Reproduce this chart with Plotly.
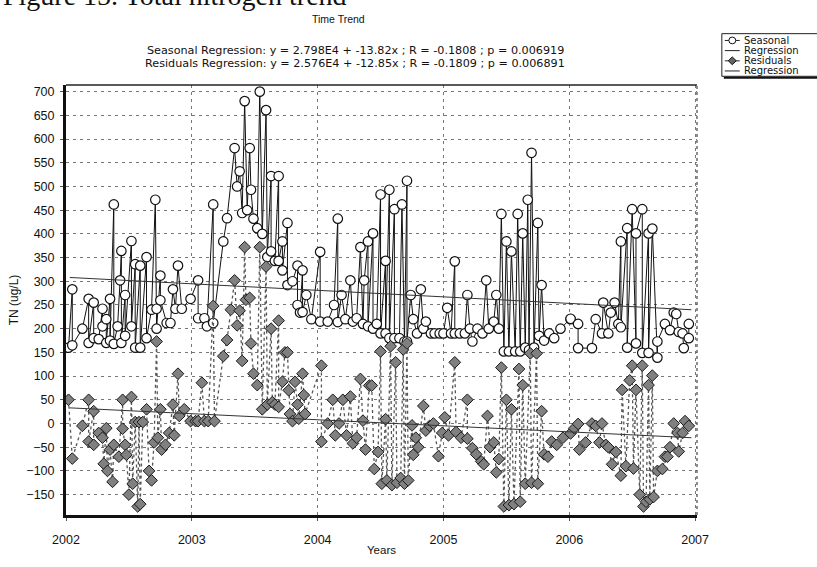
import plotly.graph_objects as go

# ---------------- data ----------------
seasonal_t = [2002.02, 2002.05, 2002.05, 2002.13, 2002.18, 2002.18, 2002.22, 2002.22, 2002.26, 2002.29,
              2002.29, 2002.32, 2002.32, 2002.35, 2002.35, 2002.38, 2002.38, 2002.41, 2002.43, 2002.44,
              2002.44, 2002.47, 2002.47, 2002.52, 2002.52, 2002.55, 2002.55, 2002.59, 2002.59, 2002.64,
              2002.64, 2002.68, 2002.71, 2002.72, 2002.72, 2002.75, 2002.75, 2002.80, 2002.83, 2002.85,
              2002.87, 2002.89, 2002.92, 2002.99, 2003.05, 2003.05, 2003.10, 2003.12, 2003.17, 2003.17,
              2003.25, 2003.28, 2003.34, 2003.36, 2003.38, 2003.40, 2003.42, 2003.44, 2003.46, 2003.47,
              2003.49, 2003.52, 2003.54, 2003.56, 2003.59, 2003.60, 2003.63, 2003.63, 2003.66, 2003.69,
              2003.69, 2003.72, 2003.72, 2003.76, 2003.76, 2003.80, 2003.84, 2003.84, 2003.86, 2003.88,
              2003.88, 2003.91, 2003.95, 2004.02, 2004.02, 2004.08, 2004.13, 2004.16, 2004.16, 2004.19,
              2004.22, 2004.26, 2004.28, 2004.31, 2004.34, 2004.36, 2004.37, 2004.40, 2004.40, 2004.44,
              2004.44, 2004.47, 2004.50, 2004.50, 2004.54, 2004.54, 2004.57, 2004.57, 2004.61, 2004.61,
              2004.65, 2004.67, 2004.69, 2004.71, 2004.71, 2004.74, 2004.76, 2004.79, 2004.82, 2004.84,
              2004.86, 2004.90, 2004.93, 2004.97, 2005.00, 2005.03, 2005.06, 2005.09, 2005.09, 2005.13,
              2005.17, 2005.19, 2005.21, 2005.23, 2005.27, 2005.31, 2005.34, 2005.36, 2005.40, 2005.42,
              2005.44, 2005.46, 2005.48, 2005.50, 2005.52, 2005.54, 2005.57, 2005.59, 2005.61, 2005.63,
              2005.65, 2005.67, 2005.68, 2005.70, 2005.72, 2005.75, 2005.76, 2005.78, 2005.80, 2005.84,
              2005.88, 2005.93, 2006.01, 2006.01, 2006.07, 2006.07, 2006.18, 2006.21, 2006.26, 2006.27,
              2006.31, 2006.33, 2006.36, 2006.39, 2006.41, 2006.41, 2006.46, 2006.46, 2006.50, 2006.53,
              2006.53, 2006.58, 2006.58, 2006.63, 2006.63, 2006.66, 2006.70, 2006.70, 2006.76, 2006.80,
              2006.83, 2006.85, 2006.87, 2006.90, 2006.91, 2006.95, 2006.95]
seasonal_v = [160, 283, 165, 200, 263, 170, 255, 180, 178, 242,
              205, 220, 170, 263, 175, 462, 168, 205, 302, 364,
              170, 271, 185, 385, 205, 336, 160, 333, 160, 351,
              180, 240, 472, 242, 200, 312, 260, 212, 212, 283,
              242, 333, 242, 263, 302, 222, 222, 205, 462, 212,
              384, 433, 581, 500, 532, 444, 680, 450, 581, 493,
              432, 412, 700, 400, 661, 351, 522, 363, 343, 522,
              343, 384, 323, 423, 292, 300, 333, 250, 234, 323,
              235, 271, 220, 362, 215, 215, 250, 432, 214, 271,
              220, 302, 215, 222, 372, 210, 302, 384, 205, 401,
              200, 210, 483, 190, 343, 190, 493, 180, 452, 180,
              180, 462, 173, 512, 173, 271, 220, 190, 283, 200,
              215, 190, 190, 190, 190, 244, 190, 342, 190, 190,
              190, 271, 200, 173, 200, 190, 302, 200, 215, 271,
              200, 442, 152, 384, 152, 363, 152, 442, 152, 401,
              160, 472, 155, 571, 160, 423, 185, 292, 175, 190,
              180, 200, 220, 221, 210, 159, 159, 220, 190, 255,
              190, 234, 255, 210, 384, 203, 412, 160, 452, 169,
              401, 452, 149, 401, 149, 411, 139, 173, 210, 197,
              234, 231, 193, 190, 159, 180, 210]

residual_t = [2002.02, 2002.05, 2002.13, 2002.18, 2002.18, 2002.22, 2002.22, 2002.26, 2002.29, 2002.30,
              2002.32, 2002.33, 2002.35, 2002.37, 2002.38, 2002.42, 2002.45, 2002.45, 2002.47, 2002.48,
              2002.50, 2002.52, 2002.53, 2002.55, 2002.57, 2002.58, 2002.59, 2002.61, 2002.64, 2002.66,
              2002.68, 2002.70, 2002.72, 2002.73, 2002.75, 2002.76, 2002.79, 2002.82, 2002.85, 2002.86,
              2002.89, 2002.90, 2002.94, 2002.99, 2003.03, 2003.05, 2003.08, 2003.10, 2003.13, 2003.17,
              2003.18, 2003.25, 2003.28, 2003.31, 2003.34, 2003.36, 2003.38, 2003.40, 2003.42, 2003.43,
              2003.46, 2003.47, 2003.49, 2003.52, 2003.54, 2003.56, 2003.59, 2003.60, 2003.63, 2003.64,
              2003.66, 2003.69, 2003.69, 2003.72, 2003.74, 2003.76, 2003.77, 2003.78, 2003.80, 2003.82,
              2003.84, 2003.85, 2003.88, 2003.89, 2003.90, 2004.03, 2004.03, 2004.08, 2004.12, 2004.14,
              2004.17, 2004.20, 2004.23, 2004.26, 2004.28, 2004.31, 2004.34, 2004.36, 2004.38, 2004.41,
              2004.43, 2004.45, 2004.48, 2004.50, 2004.51, 2004.54, 2004.55, 2004.58, 2004.59, 2004.62,
              2004.63, 2004.66, 2004.68, 2004.69, 2004.71, 2004.72, 2004.75, 2004.76, 2004.78, 2004.80,
              2004.84, 2004.86, 2004.89, 2004.92, 2004.96, 2004.99, 2005.01, 2005.04, 2005.09, 2005.10,
              2005.14, 2005.19, 2005.19, 2005.23, 2005.26, 2005.30, 2005.32, 2005.35, 2005.37, 2005.40,
              2005.42, 2005.44, 2005.46, 2005.48, 2005.50, 2005.52, 2005.54, 2005.56, 2005.60, 2005.61,
              2005.63, 2005.65, 2005.69, 2005.70, 2005.74, 2005.75, 2005.78, 2005.80, 2005.83, 2005.86,
              2005.90, 2005.95, 2006.01, 2006.04, 2006.07, 2006.08, 2006.13, 2006.18, 2006.21, 2006.24,
              2006.26, 2006.29, 2006.31, 2006.34, 2006.37, 2006.41, 2006.42, 2006.45, 2006.48, 2006.50,
              2006.51, 2006.53, 2006.56, 2006.58, 2006.59, 2006.61, 2006.63, 2006.64, 2006.66, 2006.67,
              2006.70, 2006.74, 2006.76, 2006.78, 2006.80, 2006.83, 2006.86, 2006.87, 2006.90, 2006.92,
              2006.95]
residual_v = [50, -74, -5, 50, -38, 26, -45, -20, -30, -85,
              -10, -100, -55, -123, -45, -70, 50, -11, -45, -66,
              -150, 56, -127, 3, -175, 3, -170, 3, 30, -100,
              -120, -40, 173, -30, 30, -55, -45, -20, 40, -25,
              105, 16, 30, 5, 5, 5, 86, 5, 5, 248,
              5, 142, 176, 240, 302, 207, 238, 132, 372, 261,
              265, 169, 105, 81, 372, 30, 331, 40, 200, 45,
              40, 217, 35, 88, 150, 150, 70, 20, 5, 88,
              40, 10, 105, 60, 20, 122, -38, 0, 50, -25,
              0, 50, -25, 57, -42, -30, 94, 6, -55, 80,
              80, -96, -60, 152, -127, 9, -120, 163, -130, 129,
              -125, -115, 156, -127, 169, -120, -4, -66, -30, -50,
              37, -15, -5, 0, -69, -20, 13, -25, 129, -18,
              -30, 50, -32, -52, -65, -80, -86, 16, -50, -40,
              -103, -75, 118, -175, 50, -172, 30, -170, 115, -165,
              81, -127, 148, -125, 148, -127, 26, -65, -70, -38,
              -45, -30, -21, -10, -1, -55, -40, 0, -5, -40,
              0, -45, -50, -86, -60, -110, 71, -90, 91, 122,
              -95, 71, -150, 122, -175, -165, 81, -160, 101, -155,
              -100, -96, -70, -70, -50, 0, -20, -59, -20, 5,
              -5]

reg_t = [2002.03, 2006.97]
seasonal_reg_v = [308, 240]
residual_reg_v = [33, -30]

y_ticks = list(range(-150, 701, 50))
x_ticks = [2002, 2003, 2004, 2005, 2006, 2007]

title_text = "Time Trend"
sub1 = "Seasonal Regression: y = 2.798E4 + -13.82x ; R = -0.1808 ; p = 0.006919"
sub2 = "Residuals Regression: y = 2.576E4 + -12.85x ; R = -0.1809 ; p = 0.006891"
legend_labels = ["Seasonal", "Regression", "Residuals", "Regression"]
caption = "Figure 15. Total nitrogen trend"

# ---------------- layout geometry ----------------
W, H = 817, 567
L, R, T, B = 62, 697, 85, 529
PW, PH = R - L, B - T


def px(x):
    return (x - L) / PW


def py(y):
    return 1 - (y - T) / PH


FONT = "Liberation Sans, Arial, sans-serif"
WIDE = "DejaVu Sans, Verdana, sans-serif"

fig = go.Figure()

fig.add_trace(go.Scatter(
    x=seasonal_t, y=seasonal_v, mode="lines+markers", name=legend_labels[0],
    line=dict(color="#111111", width=1),
    marker=dict(symbol="circle", size=9.5, color="white", line=dict(color="#111111", width=1.2)),
    showlegend=False))
fig.add_trace(go.Scatter(
    x=reg_t, y=seasonal_reg_v, mode="lines", name=legend_labels[1],
    line=dict(color="#333333", width=1), showlegend=False))
fig.add_trace(go.Scatter(
    x=residual_t, y=residual_v, mode="lines+markers", name=legend_labels[2],
    line=dict(color="#555555", width=1.3, dash="dot"),
    marker=dict(symbol="diamond", size=9, color="#808080", line=dict(color="#1a1a1a", width=1)),
    showlegend=False))
fig.add_trace(go.Scatter(
    x=reg_t, y=residual_reg_v, mode="lines", name=legend_labels[3],
    line=dict(color="#333333", width=1), showlegend=False))

shapes = []
annotations = []

# frame: thin top / right
shapes.append(dict(type="line", xref="paper", yref="paper", x0=0, x1=1, y0=1, y1=1,
                   line=dict(color="#222", width=1.5)))
shapes.append(dict(type="line", xref="paper", yref="paper", x0=1, x1=1, y0=0, y1=1,
                   line=dict(color="#444", width=1.2, dash="dot")))

# manual legend (compact, as in the reference)
lx0, ly0, ly1 = 722, 32, 76
shapes.append(dict(type="rect", xref="paper", yref="paper", x0=px(lx0), x1=px(840),
                   y0=py(ly1), y1=py(ly0), line=dict(color="#222", width=1), fillcolor="white"))
shapes.append(dict(type="line", xref="paper", yref="paper", x0=px(lx0 + 2), x1=px(840),
                   y0=py(ly1 + 1.5), y1=py(ly1 + 1.5), line=dict(color="#111", width=2)))
item_y = [39, 49.5, 60, 70.5]
for i, lab in enumerate(legend_labels):
    yy = py(item_y[i])
    if i == 2:
        col, w = "#555", 1.3
    else:
        col, w = "#222", 1
    shapes.append(dict(type="line", xref="paper", yref="paper", x0=px(725), x1=px(740),
                       y0=yy, y1=yy, line=dict(color=col, width=w)))
    if i == 0:
        shapes.append(dict(type="circle", xref="paper", yref="paper",
                           x0=px(729), x1=px(736), y0=py(item_y[i] + 3.5), y1=py(item_y[i] - 3.5),
                           line=dict(color="#111", width=1), fillcolor="white"))
    if i == 2:
        cx, cy = 732.5, item_y[i]
        path = "M {} {} L {} {} L {} {} L {} {} Z".format(
            px(cx - 4), py(cy), px(cx), py(cy - 4), px(cx + 4), py(cy), px(cx), py(cy + 4))
        shapes.append(dict(type="path", xref="paper", yref="paper", path=path,
                           line=dict(color="#111", width=1), fillcolor="#666"))
    annotations.append(dict(text=lab, xref="paper", yref="paper", x=px(742), y=yy,
                            xanchor="left", yanchor="middle", showarrow=False,
                            font=dict(family=WIDE, size=10, color="#111")))

# titles
annotations.append(dict(text=title_text, xref="paper", yref="paper", x=px(336), y=py(17),
                        xanchor="center", yanchor="middle", showarrow=False,
                        font=dict(family=FONT, size=10.5, color="#111")))
annotations.append(dict(text=sub1, xref="paper", yref="paper", x=px(353), y=py(49),
                        xanchor="center", yanchor="middle", showarrow=False,
                        font=dict(family=WIDE, size=11.2, color="#111")))
annotations.append(dict(text=sub2, xref="paper", yref="paper", x=px(353), y=py(63),
                        xanchor="center", yanchor="middle", showarrow=False,
                        font=dict(family=WIDE, size=11.2, color="#111")))
# cut-off document caption at the top (partly outside the page, as in the scan)
annotations.append(dict(text=caption, xref="paper", yref="paper",
                        x=px(-3), y=py(-7), xanchor="left", yanchor="middle", showarrow=False,
                        font=dict(family="Liberation Serif, Times New Roman, serif", size=28, color="#111")))

fig.update_layout(
    width=W, height=H,
    margin=dict(l=L, r=W - R, t=T, b=H - B, pad=0),
    paper_bgcolor="white", plot_bgcolor="white",
    showlegend=False,
    font=dict(family=FONT, size=12, color="#111"),
    shapes=shapes, annotations=annotations,
    xaxis=dict(range=[2002, 2007.015], tickvals=x_ticks, ticktext=[str(v) for v in x_ticks],
               showgrid=True, gridcolor="#777", griddash="3px,4px", gridwidth=1,
               showline=True, linecolor="#111", linewidth=3, ticks="outside", ticklen=3,
               tickcolor="#555", zeroline=False, ticklabelstandoff=8,
               tickfont=dict(family=FONT, size=12.5),
               title=dict(text="Years", font=dict(family=FONT, size=11.5), standoff=0)),
    yaxis=dict(range=[-193, 714], tickvals=y_ticks, showgrid=True, gridcolor="#777",
               griddash="3px,4px", gridwidth=1, showline=True, linecolor="#111", linewidth=3,
               ticks="outside", ticklen=3, tickcolor="#555", zeroline=False,
               tickfont=dict(family=FONT, size=12.5), ticklabelstandoff=3,
               title=dict(text="TN (ug/L)", font=dict(family=FONT, size=12), standoff=6)),
)

fig.write_html("out.html")
